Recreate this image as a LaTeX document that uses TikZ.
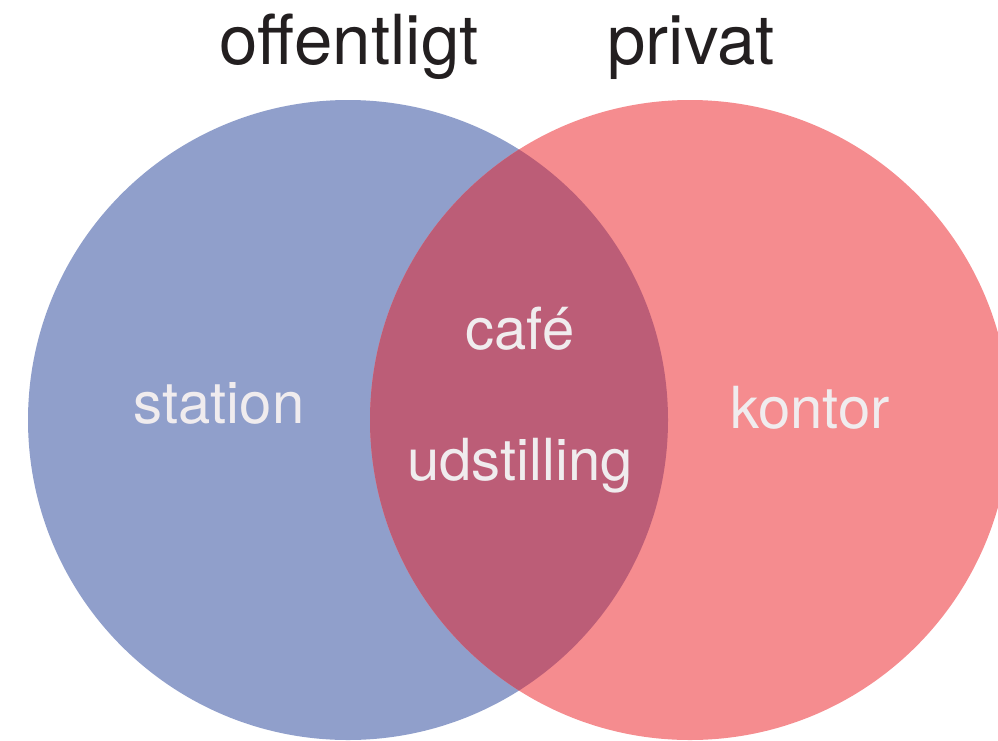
\documentclass[tikz,border=0pt]{standalone}
\usepackage{fontspec}
\setmainfont{TeX Gyre Heros}
\definecolor{cblue}{HTML}{909FCB}
\definecolor{cpink}{HTML}{F58C8F}
\definecolor{cmix}{HTML}{BC5D77}
\definecolor{ctext}{HTML}{F0ECEE}
\definecolor{ctitle}{HTML}{231F20}
\begin{document}
\begin{tikzpicture}[x=1pt,y=-1pt,
  title/.style={anchor=base,text=ctitle,font=\fontsize{69}{69}\selectfont,inner sep=0},
  lbl/.style={anchor=base,text=ctext,font=\fontsize{58}{58}\selectfont,inner sep=0}]
\useasboundingbox (0,0) rectangle (998,740);
\clip (0,0) rectangle (998,740);
\fill[cblue] (348,420) circle (320);
\fill[cpink] (690,420) circle (320);
\begin{scope}
\clip (348,420) circle (320);
\fill[cmix] (690,420) circle (320);
\end{scope}
\node[title] (pub) at (349,64) {offentligt};
\node[title] (priv) at (691,64) {privat};
\node[lbl] (station) at (219,423) {station};
\node[lbl] (cafe) at (520,349) {café};
\node[lbl] (udst) at (520,480) {udstilling};
\node[lbl] (kontor) at (810,428) {kontor};
\end{tikzpicture}
\end{document}
